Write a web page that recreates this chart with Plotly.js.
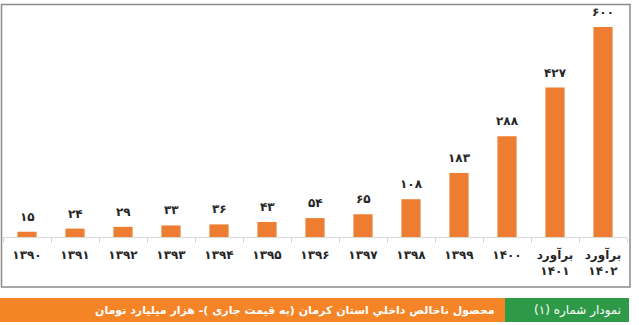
<!DOCTYPE html>
<html>
<head>
<meta charset="utf-8">
<script src="https://cdn.plot.ly/plotly-3.0.1.min.js"></script>
<style>
html,body{margin:0;padding:0;background:#fff;}
#chart{width:639px;height:325px;}
</style>
</head>
<body>
<div id="chart"></div>
<script>
// ---- data ----
var categories = ['۱۳۹۰','۱۳۹۱','۱۳۹۲','۱۳۹۳','۱۳۹۴','۱۳۹۵','۱۳۹۶','۱۳۹۷','۱۳۹۸','۱۳۹۹','۱۴۰۰','برآورد<br>۱۴۰۱','برآورد<br>۱۴۰۲'];
var values = [15, 24, 29, 33, 36, 43, 54, 65, 108, 183, 288, 427, 600];
var chartTitle = 'محصول ناخالص داخلي استان کرمان (به قیمت جاری )- هزار میلیارد تومان';
var chartNumber = 'نمودار شماره (۱)';

function fa(n){
  return String(n).replace(/[0-9]/g, function(d){ return '۰۱۲۳۴۵۶۷۸۹'[+d]; });
}

// layout geometry (pixels)
var L = 3, R = 12, T = 5, B = 88;
var W = 639 - L - R, H = 325 - T - B;
function X(px){ return (px - L) / W; }
function Y(py){ return (T + H - py) / H; }

var FONT = 'DejaVu Sans';

var trace = {
  type: 'bar',
  x: categories,
  y: values,
  width: 0.4,
  marker: {color: '#ED7D31'},
  hoverinfo: 'none'
};

var labelAnns = categories.map(function(c, i){
  return {
    x: c, y: values[i], xref: 'x', yref: 'y',
    text: fa(values[i]), showarrow: false,
    yanchor: 'middle', yshift: 15,
    font: {family: FONT, size: 12, color: '#262626', weight: 'bold'}
  };
});

var annotations = labelAnns.concat([
  {
    xref: 'paper', yref: 'paper', x: X(497), y: Y(310),
    xanchor: 'right', yanchor: 'middle', showarrow: false,
    text: chartTitle,
    font: {family: FONT, size: 11, color: '#ffffff', weight: 'bold'}
  },
  {
    xref: 'paper', yref: 'paper', x: X(623), y: Y(310),
    xanchor: 'right', yanchor: 'middle', showarrow: false,
    text: chartNumber,
    font: {family: FONT, size: 12, color: '#ffffff'}
  }
]);

var shapes = [
  // frame
  {type: 'rect', xref: 'paper', yref: 'paper', x0: X(1.5), x1: X(630), y0: Y(287), y1: Y(4.5),
   line: {color: '#8a8a8a', width: 1.5}, fillcolor: 'rgba(0,0,0,0)', layer: 'below'},
  // orange banner
  {type: 'rect', xref: 'paper', yref: 'paper', x0: X(0), x1: X(505), y0: Y(322), y1: Y(298),
   line: {width: 0}, fillcolor: '#F58426'},
  // green banner
  {type: 'rect', xref: 'paper', yref: 'paper', x0: X(505), x1: X(629), y0: Y(322), y1: Y(298),
   line: {width: 0}, fillcolor: '#2E9A47'}
];

var layout = {
  width: 639, height: 325,
  margin: {l: L, r: R, t: T, b: B, pad: 0},
  paper_bgcolor: '#ffffff', plot_bgcolor: '#ffffff',
  showlegend: false,
  bargap: 0.6,
  xaxis: {
    type: 'category',
    range: [-0.5, 12.5],
    showline: true, linecolor: '#d9d9d9', linewidth: 1,
    ticks: 'outside', tickson: 'boundaries', ticklen: 5, tickcolor: '#d9d9d9', tickwidth: 1,
    ticklabelstandoff: 7,
    tickfont: {family: FONT, size: 12, color: '#262626', weight: 'bold'},
    showgrid: false, zeroline: false, fixedrange: true
  },
  yaxis: {
    range: [0, 600 * H / 210],
    visible: false, showgrid: false, zeroline: false, fixedrange: true
  },
  shapes: shapes,
  annotations: annotations
};

Plotly.newPlot('chart', [trace], layout, {displayModeBar: false, staticPlot: true});
</script>
</body>
</html>
